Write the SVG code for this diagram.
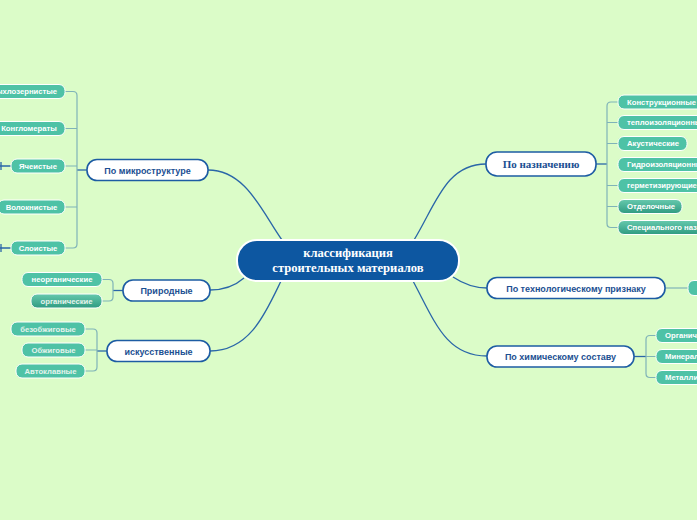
<svg xmlns="http://www.w3.org/2000/svg" width="697" height="520" viewBox="0 0 697 520">
<defs>
<linearGradient id="dk" x1="0" y1="0" x2="0" y2="1">
<stop offset="0" stop-color="#66c9ad"/>
<stop offset="1" stop-color="#2f9b81"/>
</linearGradient>
</defs>
<style>
.bg{fill:#dbfcc8}
.main{stroke:#2a66a8;stroke-width:1.3;fill:none}
.sub{stroke:#7fb3b8;stroke-width:1.2;fill:none}
.subd{stroke:#2a66a8;stroke-width:1.3;fill:none}
.center rect{fill:#0d57a1;stroke:#ffffff;stroke-width:2}
.center text{fill:#ffffff;font-family:"Liberation Serif",serif;font-weight:bold;font-size:12.6px;text-anchor:middle}
.prim rect{fill:#ffffff;stroke:#1d5ca3;stroke-width:1.6}
.prim text{fill:#1b4f92;font-family:"Liberation Sans",Arial,sans-serif;font-weight:bold;font-size:9px;text-anchor:middle}
.prim text.serif{font-family:"Liberation Serif",serif;font-size:11px}
.leaf rect{fill:#4ec2a6;stroke:#ffffff;stroke-width:1}
.leaf rect.dk{fill:url(#dk)}
.leaf text{fill:#ffffff;font-family:"Liberation Sans",Arial,sans-serif;font-weight:bold;font-size:7.7px;text-anchor:middle}
.leaf text.fade{fill:#e4f3ec}
.leaf text.st{text-anchor:start}
</style>
<rect class="bg" x="0" y="0" width="697" height="520"/>

<g id="connectors">
<path class="main" d="M208 170 C246 170 262 212 282 240"/>
<path class="main" d="M414 240 C436 204 446 164 486 164"/>
<path class="main" d="M210 290 C226 290 236 285 244 278"/>
<path class="main" d="M210 351 C250 351 266 312 281 281"/>
<path class="main" d="M453 277 C465 285 475 288 487 288"/>
<path class="main" d="M413 281 C435 322 446 356 487 356"/>

<path class="subd" d="M87 170 H77"/>
<path class="sub" d="M65 91.5 H73 Q77 91.5 77 95.5 V244 Q77 248 73 248 H65"/>
<path class="sub" d="M65 128.5 H77 M65 166 H77 M65 207 H77"/>
<path class="subd" d="M11 166 H0 M11 248 H0"/>
<path class="subd" d="M1 162 V170 M1 244 V252"/>

<path class="subd" d="M123 290.5 H113"/>
<path class="sub" d="M102 279.5 H109 Q113 279.5 113 283.5 V297 Q113 301 109 301 H102"/>

<path class="subd" d="M107 351 H97"/>
<path class="sub" d="M85 329 H93 Q97 329 97 333 V367 Q97 371 93 371 H85 M85 350 H97"/>

<path class="subd" d="M596 164 H607"/>
<path class="sub" d="M618 102 H611 Q607 102 607 106 V223.5 Q607 227.5 611 227.5 H618"/>
<path class="sub" d="M618 122.5 H607 M618 143.5 H607 M618 185.5 H607 M618 206.5 H607"/>

<path class="sub" d="M665 288 H688"/>

<path class="subd" d="M634 356.5 H646"/>
<path class="sub" d="M656 335.5 H650 Q646 335.5 646 339.5 V373.5 Q646 377.5 650 377.5 H656 M656 356.5 H646"/>
</g>

<g id="center" class="center">
<rect x="237" y="240" width="222" height="41" rx="20"/>
<text x="348" y="257">классификация</text>
<text x="348" y="271.5">строительных материалов</text>
</g>

<g id="n-micro" class="prim">
<rect x="87" y="159.5" width="121" height="21" rx="10"/>
<text x="147.5" y="173.5">По микроструктуре</text>
</g>
<g id="n-prirod" class="prim">
<rect x="123" y="280" width="87" height="21" rx="10"/>
<text x="166.5" y="294">Природные</text>
</g>
<g id="n-iskus" class="prim">
<rect x="107" y="340.5" width="103" height="21" rx="10"/>
<text x="158.5" y="354.5">искусственные</text>
</g>
<g id="n-naznach" class="prim">
<rect x="486" y="152" width="110" height="24" rx="11"/>
<text class="serif" x="541" y="168">По назначению</text>
</g>
<g id="n-tehn" class="prim">
<rect x="487" y="277.5" width="178" height="21" rx="10"/>
<text x="576" y="291.5">По технологическому признаку</text>
</g>
<g id="n-him" class="prim">
<rect x="487" y="346" width="147" height="21" rx="10"/>
<text x="560.5" y="360">По химическому составу</text>
</g>

<g id="l-ryhlo" class="leaf">
<rect x="-17" y="84.5" width="82" height="14" rx="6"/>
<text x="24" y="94.2">Рыхлозернистые</text>
</g>
<g id="l-konglo" class="leaf">
<rect x="-7" y="121.5" width="72" height="14" rx="6"/>
<text x="29" y="131.2">Конгломераты</text>
</g>
<g id="l-yach" class="leaf">
<rect x="11" y="159" width="54" height="14" rx="6"/>
<text x="38" y="168.7">Ячеистые</text>
</g>
<g id="l-volok" class="leaf">
<rect x="-2" y="200" width="67" height="14" rx="6"/>
<text x="31.5" y="209.7">Волокнистые</text>
</g>
<g id="l-sloist" class="leaf">
<rect x="11" y="241" width="54" height="14" rx="6"/>
<text x="38" y="250.7">Слоистые</text>
</g>

<g id="l-neorg" class="leaf">
<rect x="22" y="272.5" width="80" height="14" rx="6"/>
<text x="62" y="282.2">неорганические</text>
</g>
<g id="l-org" class="leaf">
<rect class="dk" x="31" y="294" width="71" height="14" rx="6"/>
<text class="fade" x="66.5" y="303.7">органические</text>
</g>

<g id="l-bezobzh" class="leaf">
<rect x="11" y="322" width="74" height="14" rx="6"/>
<text class="fade" x="48" y="331.7">безобжиговые</text>
</g>
<g id="l-obzh" class="leaf">
<rect x="22" y="343" width="63" height="14" rx="6"/>
<text class="fade" x="53.5" y="352.7">Обжиговые</text>
</g>
<g id="l-avtokl" class="leaf">
<rect x="16" y="364" width="69" height="14" rx="6"/>
<text class="fade" x="50.5" y="373.7">Автоклавные</text>
</g>

<g id="l-konstr" class="leaf">
<rect x="618" y="95" width="90" height="14" rx="6"/>
<text class="st" x="627" y="104.7">Конструкционные</text>
</g>
<g id="l-teplo" class="leaf">
<rect x="618" y="115.5" width="100" height="14" rx="6"/>
<text class="st" x="627" y="125.2">теплоизоляционные</text>
</g>
<g id="l-akust" class="leaf">
<rect x="618" y="136.5" width="69" height="14" rx="6"/>
<text class="st" x="627" y="146.2">Акустические</text>
</g>
<g id="l-gidro" class="leaf">
<rect x="618" y="157.5" width="100" height="14" rx="6"/>
<text class="st" x="627" y="167.2">Гидроизоляционные</text>
</g>
<g id="l-germ" class="leaf">
<rect x="618" y="178.5" width="90" height="14" rx="6"/>
<text class="st" x="627" y="188.2">герметизирующие</text>
</g>
<g id="l-otdel" class="leaf">
<rect class="dk" x="618" y="199.5" width="64" height="14" rx="6"/>
<text class="st" x="627" y="209.2">Отделочные</text>
</g>
<g id="l-spec" class="leaf">
<rect class="dk" x="618" y="220.5" width="130" height="14" rx="6"/>
<text class="st" x="627" y="230.2">Специального назначения</text>
</g>

<g id="l-tehn-child" class="leaf">
<rect x="688" y="280.5" width="40" height="15" rx="6"/>
</g>

<g id="l-organich" class="leaf">
<rect x="656" y="328.5" width="80" height="14" rx="6"/>
<text class="st" x="665" y="338.2">Органические</text>
</g>
<g id="l-miner" class="leaf">
<rect x="656" y="349.5" width="80" height="14" rx="6"/>
<text class="st" x="665" y="359.2">Минеральные</text>
</g>
<g id="l-metall" class="leaf">
<rect x="656" y="370.5" width="80" height="14" rx="6"/>
<text class="st" x="665" y="380.2">Металлические</text>
</g>
</svg>
